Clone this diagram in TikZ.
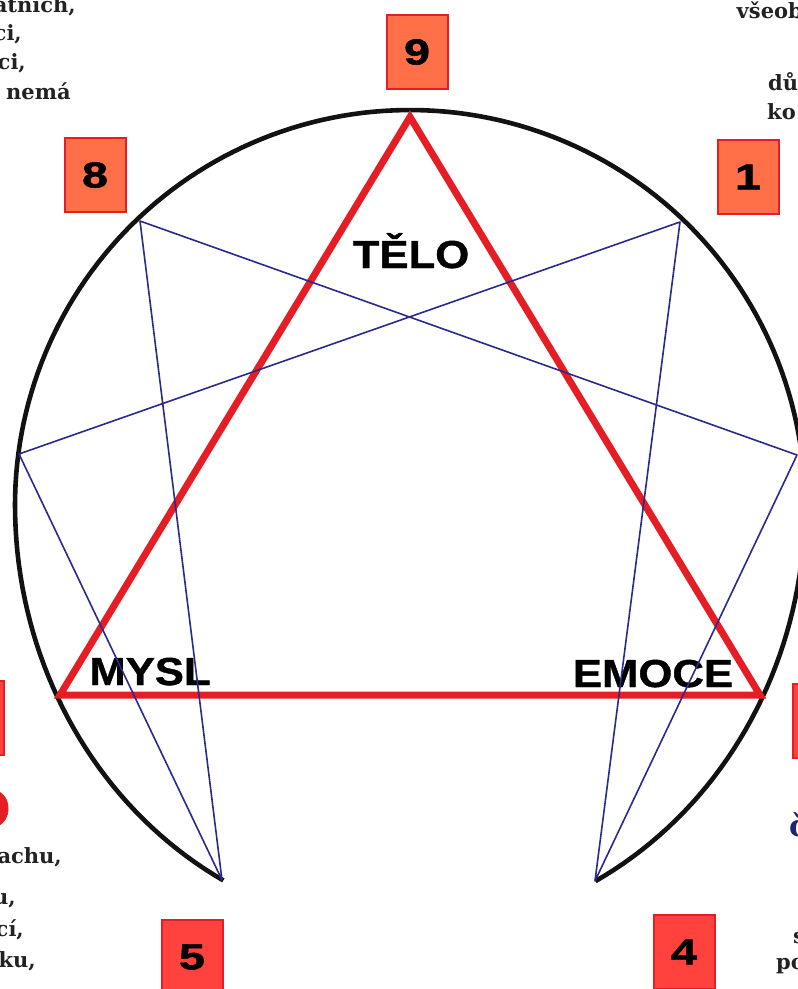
\documentclass[tikz,border=0pt]{standalone}
\usepackage{fontspec}
\usepackage{xcolor}
\definecolor{ennRed}{RGB}{228,30,36}
\definecolor{ennBlue}{RGB}{42,42,140}
\definecolor{ennNavy}{RGB}{30,36,120}
\definecolor{boxOrange}{RGB}{255,112,72}
\definecolor{boxRed}{RGB}{255,66,62}
\definecolor{noteGray}{RGB}{34,34,34}
\newfontfamily\heavyfont{Liberation Sans}[FakeStretch=1.12, BoldFeatures={FakeBold=1}]
\newfontfamily\digitfont{Liberation Sans}[FakeStretch=1.3, BoldFeatures={FakeBold=1.5}]
\newfontfamily\notefont{DejaVu Serif}
\usetikzlibrary{positioning}
\tikzstyle{numbox}=[rectangle, draw=ennRed, line width=2pt, fill=boxOrange, minimum width=61pt, minimum height=74pt, inner sep=0pt, font={\digitfont\bfseries\fontsize{36}{36}\selectfont}]
\tikzstyle{numboxlow}=[numbox, fill=boxRed]
\tikzstyle{centre}=[inner sep=0pt, anchor=base, font={\heavyfont\bfseries\fontsize{39}{39}\selectfont}]
\tikzstyle{note}=[inner sep=0pt, text=noteGray, font={\notefont\bfseries\fontsize{21}{21}\selectfont}]
\tikzstyle{outline}=[line width=4.6pt, color=black!93]
\tikzstyle{triad}=[line width=7pt, color=ennRed]
\tikzstyle{hexad}=[line width=1.6pt, color=ennBlue, line join=round]

\begin{document}
\begin{tikzpicture}[x=1pt, y=-1pt]
    \useasboundingbox (0,0) rectangle (798,989);

    % Body enneagramu
    \coordinate (p9) at (410,117);
    \coordinate (p1) at (680,222);
    \coordinate (p2) at (797,455);
    \coordinate (p3) at (760,695);
    \coordinate (p4) at (595,881);
    \coordinate (p5) at (222,880);
    \coordinate (p6) at (60,695);
    \coordinate (p7) at (19,454);
    \coordinate (p8) at (140,221);

    % Obrys: nahore kruh, dole protazena elipsa
    \draw[outline] plot[domain=118.2:180, samples=40] ({410+395*cos(\x)}, {505+426*sin(\x)})
      -- plot[domain=180:0, samples=120] ({410+395*cos(\x)}, {505-395*sin(\x)})
      -- plot[domain=0:62, samples=40] ({410+395*cos(\x)}, {505+426*sin(\x)});

    % Trojúhelník
    \draw[triad] (p9) -- (p6) -- (p3) -- cycle;

    % Centra
    \node[centre] (telo) at (411,268) {TĚLO};
    \node[centre] (mysl) at (150,685) {MYSL};
    \node[centre] (emoce) at (653,687) {EMOCE};

    % Hexáda 1-4-2-8-5-7
    \draw[hexad] (p1) -- (p4) -- (p2) -- (p8) -- (p5) -- (p7) -- cycle;

    % Čísla typů
    \node[numbox] (n9) at (417,52) {9};
    \node[numbox] (n8) at (95,175) {8};
    \node[numbox] (n1) at (748,177) {1};
    \node[numboxlow] (n5) at (192,957) {5};
    \node[numboxlow] (n4) at (684,952) {4};
    \node[numboxlow] (n6) at (-27,718) {};
    \node[numboxlow] (n3) at (823,721) {};

    % Texty na okrajích
    \node[note, anchor=base east] (tl1) at (76,12) {atních,};
    \node[note, anchor=base east] (tl2) at (22,40) {ci,};
    \node[note, anchor=base east] (tl3) at (26,69) {ci,};
    \node[note, anchor=base west] (tl4) at (6,99) {nemá};
    \node[note, anchor=base east] (tr1) at (803,18) {všeob};
    \node[note, anchor=base west] (tr2) at (768,90) {dů};
    \node[note, anchor=base west] (tr3) at (767,119) {ko};
    \node[centre, anchor=base east, text=ennRed, font={\heavyfont\bfseries\fontsize{56}{56}\selectfont}] (bl0) at (11,828) {O};
    \node[note, anchor=base east] (bl1) at (62,863) {achu,};
    \node[note, anchor=base east] (bl2) at (16,904) {u,};
    \node[note, anchor=base east] (bl3) at (24,936) {cí,};
    \node[note, anchor=base east] (bl4) at (36,967) {ku,};
    \node[note, anchor=base west, text=ennNavy, font={\notefont\bfseries\fontsize{30}{30}\selectfont}] (br0) at (789,836) {č};
    \node[note, anchor=base west] (br1) at (793,943) {s};
    \node[note, anchor=base west] (br2) at (776,969) {po};
\end{tikzpicture}
\end{document}
